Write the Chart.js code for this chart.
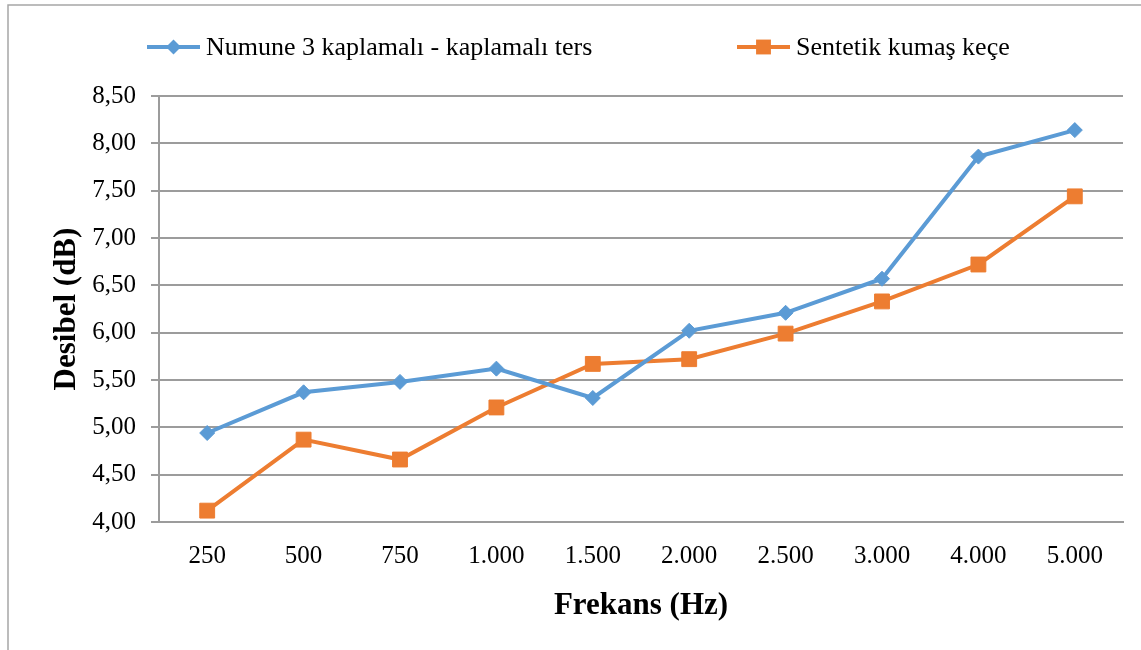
<!DOCTYPE html>
<html>
<head>
<meta charset="utf-8">
<script src="https://cdn.jsdelivr.net/npm/chart.js@4/dist/chart.umd.min.js"></script>
<style>
  html, body { margin: 0; padding: 0; background: #fff; }
  #wrap { width: 1141px; height: 650px; position: relative; }
</style>
</head>
<body>
<div id="wrap"><canvas id="chart" width="1141" height="650"></canvas></div>
<script>
// frequency bands (Hz) and measured sound levels (dB)
const frequencies = ['250', '500', '750', '1.000', '1.500', '2.000', '2.500', '3.000', '4.000', '5.000'];
const numune3 = [4.94, 5.37, 5.48, 5.62, 5.31, 6.02, 6.21, 6.57, 7.86, 8.14];
const sentetikKece = [4.12, 4.87, 4.66, 5.21, 5.67, 5.72, 5.99, 6.33, 6.72, 7.44];
const seriesNames = ['Numune 3 kaplamalı - kaplamalı ters', 'Sentetik kumaş keçe'];
const yMin = 4, yMax = 8.5, yStep = 0.5;

const BLUE = '#5B9BD5';
const ORANGE = '#ED7D31';
const GRID = '#9c9c9c';
const SERIF = '"Liberation Serif", "Times New Roman", serif';

// outer frame of the figure (left + top edges only)
const framePlugin = {
  id: 'frame',
  beforeDraw(chart) {
    const ctx = chart.ctx;
    ctx.save();
    ctx.fillStyle = '#fff';
    ctx.fillRect(0, 0, chart.width, chart.height);
    ctx.strokeStyle = '#a6a6a6';
    ctx.lineWidth = 1.5;
    ctx.beginPath();
    ctx.moveTo(8, chart.height);
    ctx.lineTo(8, 5);
    ctx.lineTo(chart.width, 5);
    ctx.stroke();
    ctx.restore();
  }
};

// legend row above the plot, Excel style: line + marker + label
const legendPlugin = {
  id: 'rowLegend',
  afterDraw(chart) {
    const ctx = chart.ctx;
    const y = 47;
    const starts = [147, 737];
    ctx.save();
    chart.data.datasets.forEach((ds, i) => {
      const x0 = starts[i];
      ctx.strokeStyle = ds.borderColor;
      ctx.lineWidth = ds.borderWidth;
      ctx.beginPath();
      ctx.moveTo(x0, y);
      ctx.lineTo(x0 + 53, y);
      ctx.stroke();
      const cx = x0 + 26.5;
      ctx.fillStyle = ds.backgroundColor;
      ctx.beginPath();
      if (ds.pointStyle === 'rectRot') {
        const r = ds.pointRadius;
        ctx.moveTo(cx - r, y);
        ctx.lineTo(cx, y - r);
        ctx.lineTo(cx + r, y);
        ctx.lineTo(cx, y + r);
        ctx.closePath();
      } else {
        const s = ds.pointRadius * Math.SQRT1_2;
        ctx.rect(cx - s, y - s, 2 * s, 2 * s);
      }
      ctx.fill();
      ctx.fillStyle = '#000';
      ctx.font = '26px ' + SERIF;
      ctx.textBaseline = 'middle';
      ctx.textAlign = 'left';
      ctx.fillText(ds.label, x0 + 59, y + 1);
    });
    ctx.restore();
  }
};

new Chart(document.getElementById('chart'), {
  type: 'line',
  data: {
    labels: frequencies,
    datasets: [
      {
        label: seriesNames[0],
        data: numune3,
        borderColor: BLUE,
        backgroundColor: BLUE,
        borderWidth: 4,
        pointStyle: 'rectRot',
        pointRadius: 7.5,
        pointBorderWidth: 1,
        tension: 0
      },
      {
        label: seriesNames[1],
        data: sentetikKece,
        borderColor: ORANGE,
        backgroundColor: ORANGE,
        borderWidth: 4,
        pointStyle: 'rect',
        pointRadius: 10.5,
        pointBorderWidth: 1,
        tension: 0
      }
    ]
  },
  options: {
    responsive: false,
    animation: false,
    layout: { padding: { top: 96, right: 18, bottom: 0, left: 0 } },
    plugins: {
      legend: { display: false },
      tooltip: { enabled: false }
    },
    scales: {
      x: {
        offset: true,
        grid: { display: false },
        border: { display: true, color: GRID, width: 2 },
        ticks: { color: '#000', font: { family: SERIF, size: 25 }, padding: 11, maxRotation: 0 },
        title: {
          display: true,
          text: 'Frekans (Hz)',
          color: '#000',
          font: { family: SERIF, size: 31, weight: 'bold' },
          padding: { top: 0, bottom: 25 }
        },
        afterFit(scale) { scale.height = 128; }
      },
      y: {
        min: yMin,
        max: yMax,
        grid: { color: GRID, lineWidth: 2, tickLength: 8, tickColor: GRID },
        border: { display: true, color: GRID, width: 2 },
        ticks: {
          stepSize: yStep,
          color: '#000',
          padding: 15,
          font: { family: SERIF, size: 25 },
          callback: v => v.toFixed(2).replace('.', ',')
        },
        title: {
          display: true,
          text: 'Desibel (dB)',
          color: '#000',
          font: { family: SERIF, size: 31, weight: 'bold' },
          padding: { top: 48, bottom: 0 }
        },
        afterFit(scale) { scale.width = 159; }
      }
    }
  },
  plugins: [framePlugin, legendPlugin]
});
</script>
</body>
</html>
